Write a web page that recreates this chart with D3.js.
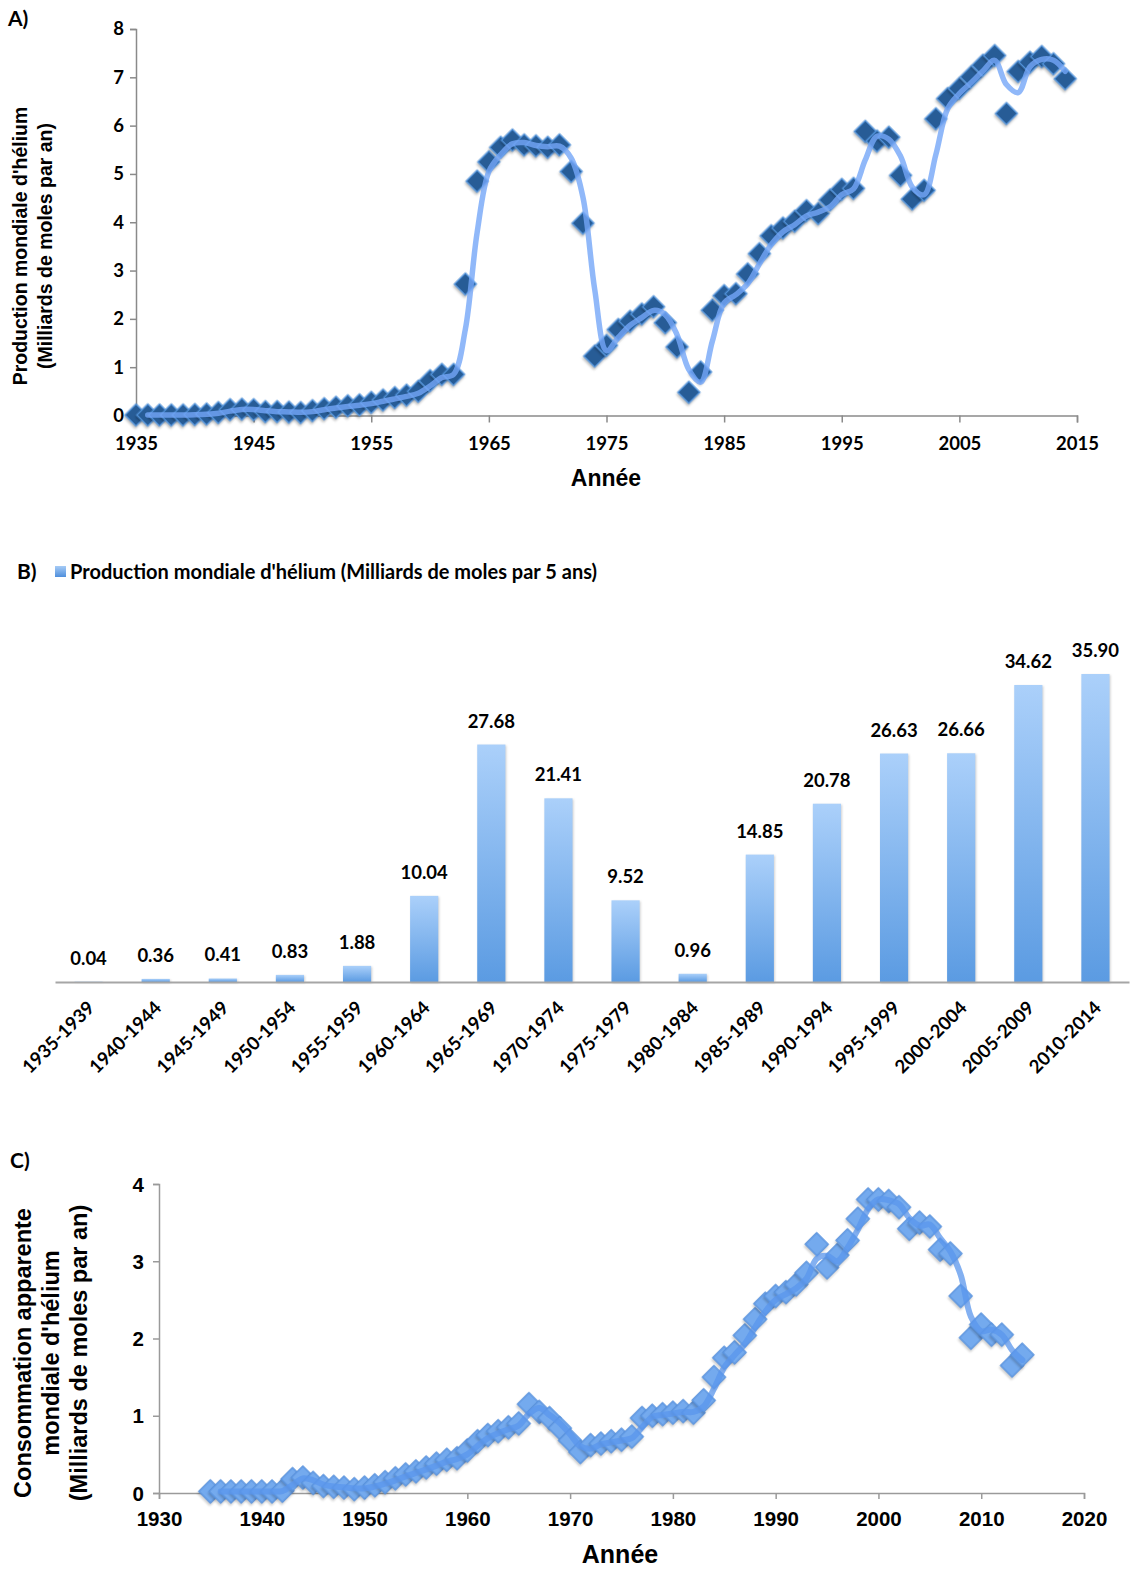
<!DOCTYPE html>
<html><head><meta charset="utf-8">
<script src="https://cdn.jsdelivr.net/npm/d3@7"></script>
<style>
body{margin:0;background:#fff;}
svg{display:block;}
</style></head>
<body>
<svg id="chart" width="1133" height="1572"></svg>
<script>
// ---------- DATA ----------
const yearsA = d3.range(1935, 2015);
const productionA = [
 0.01,0.01,0.01,0.01,0.01,
 0.02,0.03,0.06,0.12,0.13,
 0.12,0.08,0.08,0.07,0.06,
 0.10,0.14,0.17,0.20,0.22,
 0.27,0.32,0.37,0.42,0.50,
 0.72,0.85,0.85,2.72,4.85,
 5.25,5.55,5.70,5.60,5.58,
 5.55,5.60,5.05,3.98,1.23,
 1.45,1.78,1.95,2.10,2.25,
 1.92,1.42,0.48,0.90,2.18,
 2.48,2.52,2.93,3.35,3.72,
 3.88,4.02,4.24,4.18,4.46,
 4.68,4.70,5.88,5.68,5.76,
 4.97,4.48,4.66,6.14,6.56,
 6.77,7.01,7.25,7.45,6.25,
 7.12,7.31,7.43,7.28,6.97
];
const periodsB = ["1935-1939","1940-1944","1945-1949","1950-1954","1955-1959","1960-1964","1965-1969","1970-1974","1975-1979","1980-1984","1985-1989","1990-1994","1995-1999","2000-2004","2005-2009","2010-2014"];
const productionB = [0.04,0.36,0.41,0.83,1.88,10.04,27.68,21.41,9.52,0.96,14.85,20.78,26.63,26.66,34.62,35.90];
const yearsC = d3.range(1935, 2015);
const consumptionC = [
 0.02,0.02,0.02,0.02,0.02,
 0.02,0.02,0.03,0.18,0.20,
 0.13,0.09,0.08,0.07,0.05,
 0.07,0.10,0.14,0.19,0.24,
 0.28,0.33,0.38,0.43,0.45,
 0.55,0.67,0.75,0.80,0.85,
 0.90,1.15,1.05,0.97,0.84,
 0.68,0.53,0.62,0.64,0.67,
 0.69,0.73,0.97,1.00,1.02,
 1.04,1.06,1.04,1.20,1.50,
 1.75,1.82,2.04,2.25,2.45,
 2.55,2.60,2.70,2.85,3.22,
 2.92,3.08,3.27,3.55,3.80,
 3.80,3.78,3.70,3.42,3.50,
 3.45,3.15,3.10,2.55,2.01,
 2.18,2.05,2.05,1.65,1.79
];
const ticksA_x = [1935,1945,1955,1965,1975,1985,1995,2005,2015];
const ticksA_y = [0,1,2,3,4,5,6,7,8];
const ticksC_x = [1930,1940,1950,1960,1970,1980,1990,2000,2010,2020];
const ticksC_y = [0,1,2,3,4];

const svg = d3.select("#chart");
const calibri = "Lato, 'Open Sans', sans-serif";
const arial = "'Liberation Sans', Arial, Helvetica, sans-serif";

// 2-period moving average trendline (as in the original chart)
function movingAvg(xs, ys){
  const out=[];
  for(let i=1;i<ys.length;i++) out.push([xs[i], (ys[i]+ys[i-1])/2]);
  return out;
}

// ---------- PANEL A ----------
{
  const x = d3.scaleLinear().domain([1935,2015]).range([136,1077]);
  const y = d3.scaleLinear().domain([0,8]).range([415.5,29]);
  const g = svg.append("g");
  g.append("text").attr("x",8).attr("y",26).text("A)")
    .attr("font-family",calibri).attr("font-weight",700).attr("font-size",21);
  const ax = g.append("g").attr("transform","translate(0,415.5)")
    .call(d3.axisBottom(x).tickValues(ticksA_x).tickFormat(d3.format("d")).tickSizeOuter(0).tickSize(7));
  const ay = g.append("g").attr("transform","translate(136,0)")
    .call(d3.axisLeft(y).tickValues(ticksA_y).tickFormat(d3.format("d")).tickSizeOuter(0).tickSize(6));
  [ax,ay].forEach(a=>{
    a.attr("font-family",calibri);
    a.select(".domain").attr("stroke","#8a8a8a").attr("stroke-width",1.5);
    a.selectAll(".tick line").attr("stroke","#8a8a8a").attr("stroke-width",1.5);
    a.selectAll("text").attr("font-family",calibri).attr("font-weight",700).attr("font-size",18.5).attr("fill","#000");
  });
  ax.selectAll("text").attr("dy","1.3em");
  ay.selectAll("text").attr("dx","-3");
  const pts = yearsA.map((d,i)=>[d,productionA[i]]);
  g.append("g").selectAll("path").data(pts).join("path")
    .attr("d", d3.symbol(d3.symbolSquare, 235)())
    .attr("transform", d=>`translate(${x(d[0])},${y(d[1])}) rotate(45)`)
    .attr("fill","#275c96").attr("stroke","#4f8fd6").attr("stroke-width",1.5)
    .style("filter","drop-shadow(1px 2px 1px rgba(0,0,0,0.25))");
  const line = d3.line().x(d=>x(d[0])).y(d=>y(d[1])).curve(d3.curveCatmullRom.alpha(0.5));
  g.append("path").datum(movingAvg(yearsA, productionA)).attr("d",line)
    .attr("fill","none").attr("stroke","#74a6f7").attr("stroke-opacity",0.8).attr("stroke-width",5.5)
    .attr("stroke-linejoin","round").attr("stroke-linecap","round");
  g.append("text").attr("x",606).attr("y",486).attr("text-anchor","middle").text("Année")
    .attr("font-family",arial).attr("font-weight",700).attr("font-size",23);
  const t = g.append("text").attr("transform","translate(27,246) rotate(-90)").attr("text-anchor","middle")
    .attr("font-family",arial).attr("font-weight",700).attr("font-size",19.5);
  t.append("tspan").attr("x",0).attr("y",0).text("Production mondiale d'hélium");
  t.append("tspan").attr("x",0).attr("y",25).text("(Milliards de moles par an)");
}

// ---------- PANEL B ----------
{
  const x = d3.scaleBand().domain(periodsB).range([55,1129]).paddingInner(0.58).paddingOuter(0.29);
  const y = d3.scaleLinear().domain([0,35.9]).range([982,674]);
  const g = svg.append("g");
  const defs = svg.append("defs");
  const grad = defs.append("linearGradient").attr("id","barGrad").attr("x1",0).attr("x2",0).attr("y1",0).attr("y2",1);
  grad.append("stop").attr("offset","0%").attr("stop-color","#abd0fa");
  grad.append("stop").attr("offset","100%").attr("stop-color","#5b9be2");
  const grad2 = defs.append("linearGradient").attr("id","legGrad").attr("x1",0).attr("x2",0).attr("y1",0).attr("y2",1);
  grad2.append("stop").attr("offset","0%").attr("stop-color","#a6cbf6");
  grad2.append("stop").attr("offset","100%").attr("stop-color","#4f8fdc");

  g.append("text").attr("x",17).attr("y",579).text("B)")
    .attr("font-family",calibri).attr("font-weight",700).attr("font-size",21);
  g.append("rect").attr("x",55).attr("y",566).attr("width",11).attr("height",11).attr("fill","url(#legGrad)");
  g.append("text").attr("x",70).attr("y",579).text("Production mondiale d'hélium (Milliards de moles par 5 ans)")
    .attr("font-family",calibri).attr("font-weight",700).attr("font-size",20);

  g.selectAll("rect.bar").data(periodsB).join("rect").attr("class","bar")
    .attr("x",d=>x(d)).attr("width",x.bandwidth())
    .attr("y",(d,i)=>y(productionB[i])).attr("height",(d,i)=>982-y(productionB[i]))
    .attr("fill","url(#barGrad)")
    .style("filter","drop-shadow(1px 1px 1px rgba(0,0,0,0.18))");
  g.selectAll("text.val").data(periodsB).join("text").attr("class","val")
    .attr("x",d=>x(d)+x.bandwidth()/2).attr("y",(d,i)=>y(productionB[i])-17)
    .attr("text-anchor","middle").text((d,i)=>productionB[i].toFixed(2))
    .attr("font-family",calibri).attr("font-weight",700).attr("font-size",18.5);
  const ax = g.append("g").attr("transform","translate(0,982)")
    .call(d3.axisBottom(x).tickSize(0).tickSizeOuter(0));
  ax.select(".domain").attr("stroke","#a6a6a6").attr("stroke-width",2);
  ax.selectAll("text").attr("font-family",calibri).attr("font-weight",700).attr("font-size",18.5).attr("fill","#000")
    .attr("text-anchor","end").attr("dy",0).attr("y",0)
    .attr("transform","translate(7,27) rotate(-45)");
}

// ---------- PANEL C ----------
{
  const x = d3.scaleLinear().domain([1930,2020]).range([159,1084]);
  const y = d3.scaleLinear().domain([0,4]).range([1493,1184]);
  const g = svg.append("g");
  g.append("text").attr("x",10).attr("y",1168).text("C)")
    .attr("font-family",calibri).attr("font-weight",700).attr("font-size",21);
  const ax = g.append("g").attr("transform","translate(0,1493)")
    .call(d3.axisBottom(x).tickValues(ticksC_x).tickFormat(d3.format("d")).tickSizeOuter(0).tickSize(6));
  const ay = g.append("g").attr("transform","translate(159,0)")
    .call(d3.axisLeft(y).tickValues(ticksC_y).tickFormat(d3.format("d")).tickSizeOuter(0).tickSize(6));
  [ax,ay].forEach(a=>{
    a.attr("font-family",arial);
    a.select(".domain").attr("stroke","#9a9a9a").attr("stroke-width",1.5);
    a.selectAll(".tick line").attr("stroke","#9a9a9a").attr("stroke-width",1.5);
    a.selectAll("text").attr("font-family",arial).attr("font-weight",700).attr("font-size",20.5).attr("fill","#000");
  });
  ax.selectAll("text").attr("dy","1.15em");
  ay.selectAll("text").attr("dx","-6").attr("dy","0.35em");
  const pts = yearsC.map((d,i)=>[d,consumptionC[i]]);
  g.append("g").selectAll("path").data(pts).join("path")
    .attr("d", d3.symbol(d3.symbolSquare, 270)())
    .attr("transform", d=>`translate(${x(d[0])},${y(d[1])}) rotate(45)`)
    .attr("fill","#74aaee").attr("stroke","#5690dc").attr("stroke-width",1.2)
    .style("filter","drop-shadow(1px 2px 1px rgba(0,0,0,0.2))");
  const line = d3.line().x(d=>x(d[0])).y(d=>y(d[1])).curve(d3.curveCatmullRom.alpha(0.5));
  g.append("path").datum(movingAvg(yearsC, consumptionC)).attr("d",line)
    .attr("fill","none").attr("stroke","#5a95ec").attr("stroke-opacity",0.75).attr("stroke-width",6)
    .attr("stroke-linejoin","round").attr("stroke-linecap","round");
  g.append("text").attr("x",620).attr("y",1563).attr("text-anchor","middle").text("Année")
    .attr("font-family",arial).attr("font-weight",700).attr("font-size",25);
  const t = g.append("text").attr("transform","translate(31,1353) rotate(-90)").attr("text-anchor","middle")
    .attr("font-family",arial).attr("font-weight",700).attr("font-size",23.5);
  t.append("tspan").attr("x",0).attr("y",0).text("Consommation apparente");
  t.append("tspan").attr("x",0).attr("y",28).text("mondiale d'hélium");
  t.append("tspan").attr("x",0).attr("y",56).text("(Milliards de moles par an)");
}
</script>
</body></html>
